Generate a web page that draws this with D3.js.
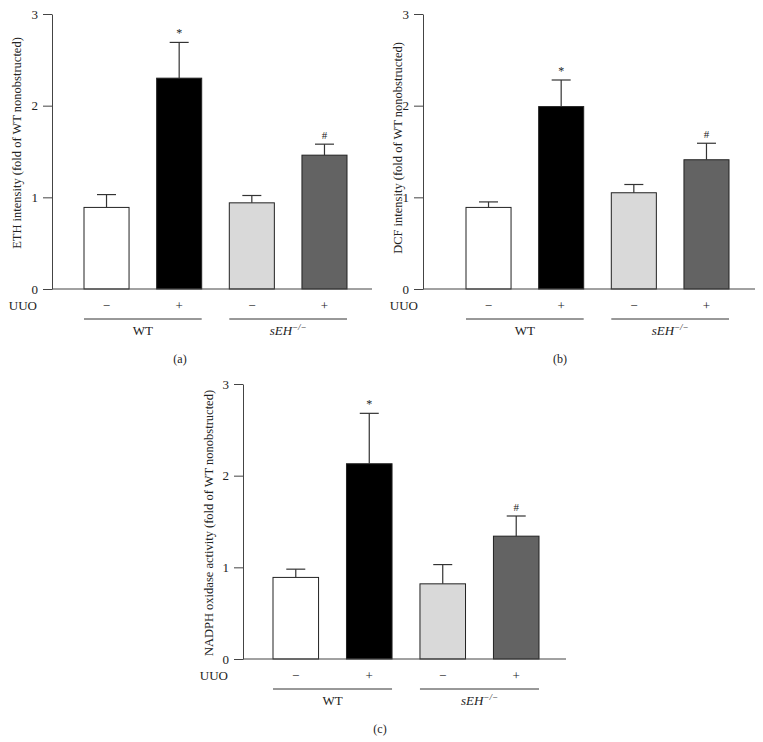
<!DOCTYPE html>
<html>
<head>
<meta charset="utf-8">
<script src="https://cdn.jsdelivr.net/npm/d3@7/dist/d3.min.js"></script>
<style>
  body { margin: 0; background: #fff; }
  svg { display: block; font-family: "Liberation Serif", "DejaVu Serif", serif; }
</style>
</head>
<body>
<svg id="chart" width="763" height="742"></svg>
<script>
// ---- data ----
const conditions = ["WT −", "WT +", "sEH −", "sEH +"];
const uuoLabels = ["−", "+", "−", "+"];
const groupNames = ["WT", "sEH"];
const yTicks = [0, 1, 2, 3];
const barFills = ["#ffffff", "#000000", "#d9d9d9", "#636363"];

const ethMeans = [0.89, 2.30, 0.94, 1.46];
const ethSEM   = [0.14, 0.39, 0.08, 0.12];
const ethMarks = ["", "*", "", "#"];

const dcfMeans = [0.89, 1.99, 1.05, 1.41];
const dcfSEM   = [0.06, 0.29, 0.09, 0.18];
const dcfMarks = ["", "*", "", "#"];

const nadphMeans = [0.89, 2.13, 0.82, 1.34];
const nadphSEM   = [0.09, 0.55, 0.21, 0.22];
const nadphMarks = ["", "*", "", "#"];

const panels = [
  { means: ethMeans, sem: ethSEM, marks: ethMarks,
    ylabel: "ETH intensity (fold of WT nonobstructed)", caption: "(a)",
    ax: 52, axEnd: 372, barL: 84, barR: 347, y0: 289, y3: 14,
    uuoX: 37, ylabX: 21, ylabY: 143, capX: 180 },
  { means: dcfMeans, sem: dcfSEM, marks: dcfMarks,
    ylabel: "DCF intensity (fold of WT nonobstructed)", caption: "(b)",
    ax: 423, axEnd: 755, barL: 466, barR: 729, y0: 289, y3: 14,
    uuoX: 418, ylabX: 402, ylabY: 148, capX: 560 },
  { means: nadphMeans, sem: nadphSEM, marks: nadphMarks,
    ylabel: "NADPH oxidase activity (fold of WT nonobstructed)", caption: "(c)",
    ax: 243, axEnd: 566, barL: 273, barR: 539, y0: 659, y3: 384,
    uuoX: 228, ylabX: 213, ylabY: 523, capX: 380 }
];

const svg = d3.select("#chart");
const axisColor = "#444";

panels.forEach(p => {
  const g = svg.append("g");
  const x = d3.scaleBand().domain(conditions).range([p.barL, p.barR])
    .paddingInner(0.38).paddingOuter(0);
  const y = d3.scaleLinear().domain([0, 3]).range([p.y0, p.y3]);

  // y axis
  const yAxis = g.append("g").attr("transform", `translate(${p.ax},0)`)
    .call(d3.axisLeft(y).tickValues(yTicks).tickFormat(d3.format("d"))
      .tickSize(9).tickSizeOuter(0).tickPadding(5));
  yAxis.select(".domain").attr("stroke", axisColor);
  yAxis.selectAll(".tick line").attr("stroke", axisColor);
  yAxis.selectAll("text").attr("font-size", 13).attr("fill", "#222")
    .attr("font-family", "Liberation Serif, serif");

  // bars
  g.selectAll("rect.bar").data(p.means).join("rect")
    .attr("class", "bar")
    .attr("x", (d, i) => x(conditions[i]))
    .attr("width", x.bandwidth())
    .attr("y", d => y(d))
    .attr("height", d => y(0) - y(d))
    .attr("fill", (d, i) => barFills[i])
    .attr("stroke", "#222").attr("stroke-width", 1);

  // error bars (upper only)
  const cx = i => x(conditions[i]) + x.bandwidth() / 2;
  p.means.forEach((m, i) => {
    const top = y(m + p.sem[i]);
    g.append("line").attr("x1", cx(i)).attr("x2", cx(i))
      .attr("y1", y(m)).attr("y2", top).attr("stroke", "#333").attr("stroke-width", 1.2);
    g.append("line").attr("x1", cx(i) - 9.5).attr("x2", cx(i) + 9.5)
      .attr("y1", top).attr("y2", top).attr("stroke", "#333").attr("stroke-width", 1.2);
    if (p.marks[i]) {
      g.append("text").attr("x", cx(i)).attr("y", top - 5)
        .attr("text-anchor", "middle").attr("font-size", p.marks[i] === "*" ? 12 : 11)
        .attr("fill", "#222").text(p.marks[i]);
    }
  });

  // x axis line
  g.append("line").attr("x1", p.ax).attr("x2", p.axEnd)
    .attr("y1", y(0)).attr("y2", y(0)).attr("stroke", axisColor).attr("stroke-width", 1);

  // UUO tick labels
  const xAxis = g.append("g").attr("transform", `translate(0,${y(0)})`)
    .call(d3.axisBottom(x).tickSize(0).tickPadding(12)
      .tickFormat((d, i) => uuoLabels[i]));
  xAxis.select(".domain").remove();
  xAxis.selectAll("text").attr("font-size", 13).attr("fill", "#222")
    .attr("font-family", "Liberation Serif, serif");

  g.append("text").attr("x", p.uuoX).attr("y", y(0) + 21)
    .attr("text-anchor", "end").attr("font-size", 13).attr("fill", "#222").text("UUO");

  // group lines and labels
  [[0, 1], [2, 3]].forEach((pair, gi) => {
    const xl = x(conditions[pair[0]]);
    const xr = x(conditions[pair[1]]) + x.bandwidth();
    g.append("line").attr("x1", xl).attr("x2", xr)
      .attr("y1", y(0) + 30).attr("y2", y(0) + 30)
      .attr("stroke", "#333").attr("stroke-width", 1);
    const t = g.append("text").attr("x", (xl + xr) / 2).attr("y", y(0) + 46)
      .attr("text-anchor", "middle").attr("font-size", 13).attr("fill", "#222");
    if (gi === 0) {
      t.text(groupNames[0]);
    } else {
      t.append("tspan").attr("font-style", "italic").text(groupNames[1]);
      t.append("tspan").attr("font-style", "italic").attr("font-size", 9)
        .attr("dy", -5).text("−/−");
    }
  });

  // y label
  g.append("text")
    .attr("transform", `translate(${p.ylabX},${p.ylabY}) rotate(-90)`)
    .attr("text-anchor", "middle").attr("font-size", 12.5).attr("fill", "#222")
    .text(p.ylabel);

  // caption
  g.append("text").attr("x", p.capX).attr("y", y(0) + 74)
    .attr("text-anchor", "middle").attr("font-size", 12).attr("fill", "#222")
    .text(p.caption);
});
</script>
</body>
</html>
